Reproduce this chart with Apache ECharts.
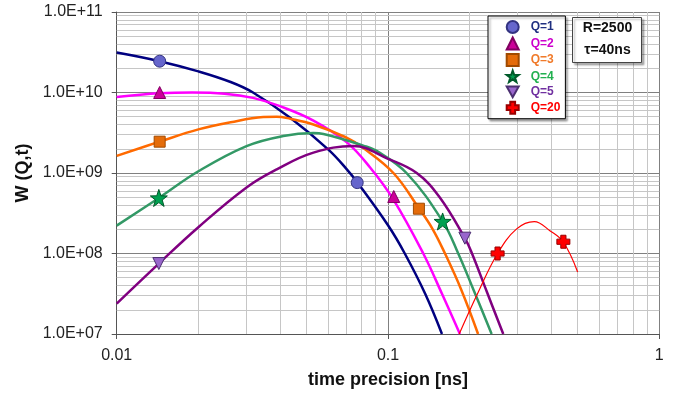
<!DOCTYPE html>
<html>
<head>
<meta charset="utf-8">
<script src="https://cdn.jsdelivr.net/npm/echarts@6/dist/echarts.min.js"></script>
<style>
html,body{margin:0;padding:0;background:#fff;}
#chart{width:674px;height:394px;}
</style>
</head>
<body>
<div id="chart"></div>
<script>
// ---- data ----
var seriesNames = ['Q=1', 'Q=2', 'Q=3', 'Q=4', 'Q=5', 'Q=20'];

var tQ1 = [0.01, 0.01439, 0.02, 0.0263, 0.0318, 0.0436, 0.0603, 0.0705, 0.0771, 0.1, 0.1153, 0.1371, 0.1581];
var wQ1 = [3.14e10, 2.45e10, 1.83e10, 1.35e10, 1.0e10, 4.85e9, 1.95e9, 1.11e9, 7.64e8, 2.24e8, 1.0e8, 3.16e7, 1.0e7];

var tQ2 = [0.01, 0.01439, 0.019, 0.025, 0.0318, 0.040, 0.0531, 0.0705, 0.0859, 0.1047, 0.1349, 0.1581, 0.1841];
var wQ2 = [8.81e9, 9.77e9, 1.0e10, 9.68e9, 8.57e9, 6.76e9, 4.48e9, 2.4e9, 1.17e9, 4.68e8, 1.0e8, 3.16e7, 1.0e7];

var tQ3 = [0.01, 0.01439, 0.02, 0.0263, 0.0347, 0.0389, 0.0436, 0.0531, 0.0695, 0.0811, 0.1047, 0.130, 0.1462, 0.1622, 0.1862, 0.2148];
var wQ3 = [1.63e9, 2.45e9, 3.48e9, 4.27e9, 4.95e9, 5.0e9, 4.72e9, 4.01e9, 2.8e9, 2.04e9, 1.0e9, 3.64e8, 2.0e8, 1.0e8, 3.55e7, 1.0e7];

var tQ4 = [0.01, 0.0143, 0.02, 0.0301, 0.0411, 0.0531, 0.0578, 0.0811, 0.0908, 0.117, 0.159, 0.1815, 0.206, 0.241];
var wQ4 = [2.22e8, 4.9e8, 1.05e9, 2.16e9, 2.88e9, 3.13e9, 3.05e9, 2.19e9, 1.88e9, 1.0e9, 2.51e8, 1.0e8, 3.63e7, 1.0e7];

var tQ5 = [0.01, 0.0143, 0.02, 0.0301, 0.0389, 0.0531, 0.0745, 0.1, 0.1276, 0.155, 0.192, 0.204, 0.231, 0.266];
var wQ5 = [2.39e7, 7.5e7, 2.12e8, 6.62e8, 1.11e9, 1.79e9, 2.16e9, 1.5e9, 1.0e9, 5.0e8, 1.55e8, 1.0e8, 3.39e7, 1.0e7];

var tQ20 = [0.183, 0.215, 0.2535, 0.298, 0.346, 0.395, 0.443, 0.50];
var wQ20 = [1.0e7, 3.3e7, 1.0e8, 2.02e8, 2.49e8, 1.92e8, 1.38e8, 5.9e7];

var markT = [[0.0144, 0.077], [0.0144, 0.105], [0.0144, 0.130], [0.0143, 0.159], [0.0143, 0.192], [0.2535, 0.443]];
var markW = [[2.45e10, 7.6e8], [1.0e10, 5.1e8], [2.45e9, 3.6e8], [4.9e8, 2.5e8], [7.5e7, 1.55e8], [1.0e8, 1.4e8]];

var xTickLabels = {'0.01': '0.01', '0.1': '0.1', '1': '1'};
var yTickLabels = {7: '1.0E+07', 8: '1.0E+08', 9: '1.0E+09', 10: '1.0E+10', 11: '1.0E+11'};

var xMinor = [0.02, 0.03, 0.04, 0.05, 0.06, 0.07, 0.08, 0.09, 0.2, 0.3, 0.4, 0.5, 0.6, 0.7, 0.8, 0.9];
var yMinor = [2e7, 3e7, 4e7, 5e7, 6e7, 7e7, 8e7, 9e7, 2e8, 3e8, 4e8, 5e8, 6e8, 7e8, 8e8, 9e8,
              2e9, 3e9, 4e9, 5e9, 6e9, 7e9, 8e9, 9e9, 2e10, 3e10, 4e10, 5e10, 6e10, 7e10, 8e10, 9e10];

// ---- styles ----
var lineColors = ['#000080', '#FF00FF', '#FF6A00', '#339966', '#800080', '#FF0000'];
var lineWidths = [2.5, 2.5, 2.5, 2.5, 2.5, 1.2];
var markerSymbols = [
  'circle',
  'triangle',
  'rect',
  'path://M50,0 L61.76,33.82 L97.55,34.55 L69.02,56.18 L79.39,90.45 L50,70 L20.61,90.45 L30.98,56.18 L2.45,34.55 L38.24,33.82 Z',
  'path://M0,0 L10,0 L5,9 Z',
  'path://M3,0 L7,0 L7,3 L10,3 L10,7 L7,7 L7,10 L3,10 L3,7 L0,7 L0,3 L3,3 Z'
];
var markerSizes = [12, 12, 11, 17, 12, 13];
var markerFills = ['#6666CC', '#CC0099', '#E46C0A', '#00A050', '#9966CC', '#FF0000'];
var markerBorders = ['#333380', '#800060', '#A04A00', '#005A2A', '#4B2F70', '#990000'];
var legendTextColors = ['#1F2F80', '#CC00CC', '#F07A2A', '#22B050', '#7030A0', '#FF0000'];

var tList = [tQ1, tQ2, tQ3, tQ4, tQ5, tQ20];
var wList = [wQ1, wQ2, wQ3, wQ4, wQ5, wQ20];

function pairs(a, b) { return a.map(function (v, i) { return [v, b[i]]; }); }

var series = [];
// minor grid lines
series.push({
  type: 'line', name: '_grid', data: [[0.01, 1e7]], showSymbol: false, silent: true,
  lineStyle: { opacity: 0 }, z: 1, animation: false,
  markLine: {
    silent: true, symbol: 'none', animation: false, z: 1,
    label: { show: false },
    lineStyle: { color: '#c6c6c6', width: 1, type: 'solid' },
    emphasis: { disabled: true },
    data: xMinor.map(function (v) { return { xAxis: v }; })
      .concat(yMinor.map(function (v) { return { yAxis: v }; }))
  }
});
for (var i = 0; i < 6; i++) {
  series.push({
    type: 'line', name: seriesNames[i] + ' curve', data: pairs(tList[i], wList[i]),
    smooth: 0.4, showSymbol: false, z: 3, animation: false,
    lineStyle: { color: lineColors[i], width: lineWidths[i] }
  });
}
for (var j = 0; j < 6; j++) {
  series.push({
    type: 'scatter', name: seriesNames[j], data: pairs(markT[j], markW[j]),
    symbol: markerSymbols[j], symbolSize: markerSizes[j], z: 5, animation: false,
    itemStyle: { color: markerFills[j], borderColor: markerBorders[j], borderWidth: 1, opacity: 1 }
  });
}

var chart = echarts.init(document.getElementById('chart'), null, { renderer: 'canvas' });
chart.setOption({
  animation: false,
  backgroundColor: '#ffffff',
  textStyle: { fontFamily: 'Liberation Sans, Arial, sans-serif' },
  grid: { left: 116.7, right: 14.7, top: 12, bottom: 58.3, containLabel: false },
  xAxis: {
    type: 'log', logBase: 10, min: 0.01, max: 1,
    name: 'time precision [ns]', nameLocation: 'middle', nameGap: 37,
    nameTextStyle: { fontSize: 18, fontWeight: 'bold', color: '#111' },
    axisLine: { show: true, lineStyle: { color: '#555', width: 1 } },
    axisTick: { show: true, length: 5, lineStyle: { color: '#555' } },
    axisLabel: { fontSize: 16, color: '#222', margin: 14,
      formatter: function (v) { var k = String(+v.toPrecision(3)); return xTickLabels[k] || k; } },
    splitLine: { show: true, lineStyle: { color: '#808080', width: 1 } },
    minorTick: { show: false }
  },
  yAxis: {
    type: 'log', logBase: 10, min: 1e7, max: 1e11,
    name: 'W (Q,t)', nameLocation: 'middle', nameGap: 76,
    nameTextStyle: { fontSize: 18, fontWeight: 'bold', color: '#111' },
    axisLine: { show: true, lineStyle: { color: '#555', width: 1 } },
    axisTick: { show: true, length: 5, lineStyle: { color: '#555' } },
    axisLabel: { fontSize: 16, color: '#222', margin: 14,
      formatter: function (v) { return yTickLabels[Math.round(Math.log10(v))]; } },
    splitLine: { show: true, lineStyle: { color: '#808080', width: 1 } }
  },
  legend: {
    orient: 'vertical', left: 488, top: 16, z: 10,
    backgroundColor: '#ffffff', borderColor: '#000', borderWidth: 1,
    shadowColor: 'rgba(0,0,0,0.35)', shadowBlur: 2, shadowOffsetX: 2, shadowOffsetY: 2,
    padding: [4, 5, 4, 17.7], itemWidth: 12, itemHeight: 12, itemGap: 2.5,
    selectedMode: false,
    textStyle: { fontSize: 12, fontWeight: 'bold', padding: [0, 0, 0, 7] },
    data: seriesNames.map(function (n, k) {
      return { name: n, textStyle: { color: legendTextColors[k] } };
    })
  },
  graphic: [{
    type: 'group', left: 572, top: 17, z: 100,
    children: [
      { type: 'rect', z: 100, shape: { x: 0, y: 0, width: 69, height: 45 },
        style: { fill: '#fff', stroke: '#444', lineWidth: 1,
                 shadowColor: 'rgba(0,0,0,0.3)', shadowBlur: 2, shadowOffsetX: 2, shadowOffsetY: 2 } },
      { type: 'text', z: 101, x: 35, y: 11, style: { text: 'R=2500', fill: '#111', font: 'bold 14px Liberation Sans, Arial, sans-serif', align: 'center', verticalAlign: 'middle' } },
      { type: 'text', z: 101, x: 35, y: 33, style: { text: 'τ=40ns', fill: '#111', font: 'bold 14px Liberation Sans, Arial, sans-serif', align: 'center', verticalAlign: 'middle' } }
    ]
  }],
  series: series
});
</script>
</body>
</html>
